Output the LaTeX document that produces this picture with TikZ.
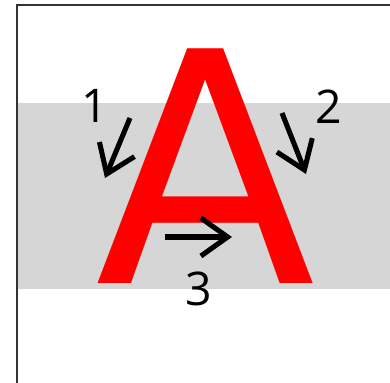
\documentclass[tikz,border=0pt]{standalone}
\usepackage{fontspec}
\usepackage{tikz}
\usetikzlibrary{arrows.meta}
\newfontfamily\letterfont{DejaVu Sans}
\newfontfamily\digitfont{Open Sans}
\definecolor{bandgray}{HTML}{D6D6D6}
\definecolor{letterred}{HTML}{FF0000}

\begin{document}
\begin{tikzpicture}[
  x=0.025cm, y=-0.025cm,
  band/.style={fill=bandgray, draw=none},
  frame/.style={draw=black!80, line width=0.8pt},
  letter/.style={anchor=base, inner sep=0pt, text=letterred, font=\letterfont\fontsize{229}{229}\selectfont},
  num/.style={anchor=base, inner sep=0pt, font=\digitfont\fontsize{33}{33}\selectfont},
  arrow/.style={-{Straight Barb[length=19pt, width=27pt, line width=3.6pt]}, line width=3.6pt}
]
\useasboundingbox (0,0) rectangle (390,383);

% Gray band and frame
\fill[band] (18,103) rectangle (390,289);
\draw[frame] (17,383) -- (17,5) -- (390,5);

% The letter
\node[letter] (glyph) at (205.5,283) {A};

% Arrow ends
\coordinate (s1) at (130,118);
\coordinate (e1) at (105,178);
\coordinate (s2) at (282,113);
\coordinate (e2) at (306,174);
\coordinate (s3) at (165,237);
\coordinate (e3) at (232,237);

% Arrows
\draw[arrow] (s1) -- (e1);
\draw[arrow] (s2) -- (e2);
\draw[arrow] (s3) -- (e3);

% Numbers
\node[num] (n1) at (95,122) {1};
\node[num] (n2) at (329,123) {2};
\node[num] (n3) at (199,305) {3};

\end{tikzpicture}
\end{document}
